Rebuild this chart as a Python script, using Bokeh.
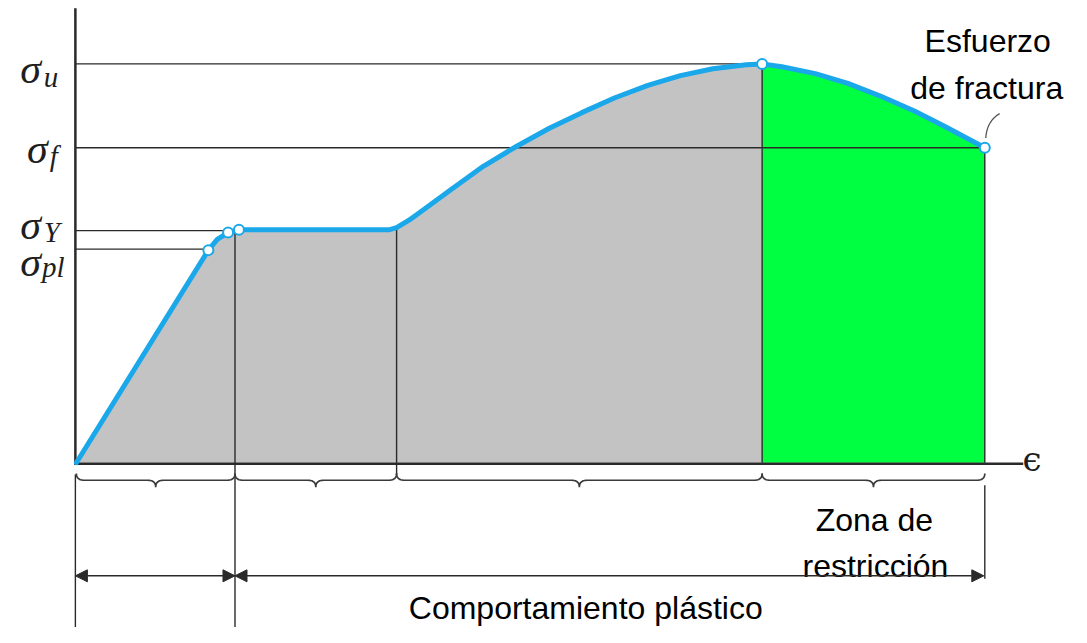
import numpy as np
from bokeh.plotting import figure
from bokeh.models import Range1d, Arrow, NormalHead
from bokeh.core.properties import value
from bokeh.embed import file_html
from bokeh.resources import INLINE

# ---- data (strain / stress in arbitrary units) ----
strain = [0.00, 1.34, 1.43, 1.54, 1.65, 2.20, 2.80, 3.18, 3.25, 3.38, 3.53, 3.80,
          4.13, 4.46, 4.80, 5.13, 5.46, 5.80, 6.13, 6.46, 6.80, 6.96, 7.16, 7.50,
          7.83, 8.16, 8.50, 8.83, 9.22]
stress = [0.00, 2.18, 2.29, 2.36, 2.39, 2.39, 2.39, 2.39, 2.41, 2.49, 2.60, 2.80,
          3.04, 3.24, 3.43, 3.59, 3.74, 3.87, 3.97, 4.04, 4.08, 4.09, 4.06, 3.99,
          3.89, 3.76, 3.61, 3.44, 3.23]

key_strain = [1.34, 1.54, 1.65, 6.96, 9.22]      # marked points
key_stress = [2.18, 2.36, 2.39, 4.09, 3.23]

level_names = ["u", "f", "Y", "pl"]
level_stress = [4.09, 3.23, 2.38, 2.19]
level_strain_end = [6.96, 9.22, 1.54, 1.34]

zone_bounds = [0.00, 1.61, 3.25, 6.96, 9.22]     # region limits on strain axis
eps_u = 6.96
eps_f = 9.22

GREY = "#c3c3c3"
GREEN = "#00ff41"
BLUE = "#1ba8ea"
INK = "#2a2a2a"

X0, X1 = -0.77, 10.10
Y0, Y1 = -1.69, 4.74

p = figure(width=1071, height=627, output_backend="svg", toolbar_location=None,
           x_range=Range1d(X0, X1), y_range=Range1d(Y0, Y1),
           min_border=0, x_axis_location=None, y_axis_location=None)
p.grid.visible = False
p.outline_line_color = None
p.background_fill_color = "white"
p.border_fill_color = "white"

s = np.array(strain)
t = np.array(stress)
iu = strain.index(eps_u)

# filled regions
p.varea(x=s[:iu + 1], y1=0, y2=t[:iu + 1], fill_color=GREY)
p.varea(x=s[iu:], y1=0, y2=t[iu:], fill_color=GREEN)

# reference horizontal lines
for lv, le in zip(level_stress, level_strain_end):
    p.line([-0.01, le], [lv, lv], line_color=INK, line_width=1.3)

# vertical separators
p.line([zone_bounds[1]] * 2, [2.38, Y0], line_color=INK, line_width=1.4)
p.line([zone_bounds[2]] * 2, [2.41, -0.12], line_color=INK, line_width=1.4)
p.line([zone_bounds[3]] * 2, [4.09, 0], line_color=INK, line_width=1.4)
p.line([zone_bounds[4]] * 2, [3.23, 0], line_color=INK, line_width=1.4)
p.line([zone_bounds[4]] * 2, [-0.23, -1.19], line_color=INK, line_width=1.4)
p.line([-0.01, -0.01], [-0.12, Y0], line_color=INK, line_width=1.4)

# axes
p.line([-0.01, -0.01], [-0.02, 4.66], line_color=INK, line_width=2.5)
p.line([-0.02, 9.61], [-0.01, -0.01], line_color=INK, line_width=2.5)

# braces
def qbez(p0, c, p1, n=12):
    tt = np.linspace(0, 1, n)
    x = (1 - tt) ** 2 * p0[0] + 2 * (1 - tt) * tt * c[0] + tt ** 2 * p1[0]
    y = (1 - tt) ** 2 * p0[1] + 2 * (1 - tt) * tt * c[1] + tt ** 2 * p1[1]
    return list(x), list(y)

yt, yl, yn, d = -0.11, -0.18, -0.25, 0.08
for a, b in zip(zone_bounds[:-1], zone_bounds[1:]):
    m = (a + b) / 2
    xs, ys = [], []
    for seg in [qbez((a, yt), (a, yl), (a + d, yl)),
                ([a + d, m - d], [yl, yl]),
                qbez((m - d, yl), (m, yl), (m, yn)),
                qbez((m, yn), (m, yl), (m + d, yl)),
                ([m + d, b - d], [yl, yl]),
                qbez((b - d, yl), (b, yl), (b, yt))]:
        xs += list(seg[0]); ys += list(seg[1])
    p.line(xs, ys, line_color="#3a3a3a", line_width=1.7)

# dimension arrows
for x0, x1 in [(-0.01, zone_bounds[1]), (zone_bounds[1], eps_f - 0.01)]:
    p.add_layout(Arrow(x_start=x0, y_start=-1.16, x_end=x1, y_end=-1.16,
                       line_color=INK, line_width=1.4,
                       start=NormalHead(size=12, fill_color=INK, line_color=INK),
                       end=NormalHead(size=12, fill_color=INK, line_color=INK)))

# fracture hook
hx, hy = qbez((9.23, 3.33), (9.24, 3.50), (9.37, 3.58))
p.line(hx, hy, line_color="#555555", line_width=1.3)

# curve + markers
p.line(s, t, line_color=BLUE, line_width=5, line_join="round", line_cap="round")
p.scatter(key_strain, key_stress, size=10, fill_color="white", line_color=BLUE,
          line_width=2)

# sigma labels
sig_x = [-0.57, -0.50, -0.57, -0.57]
sig_y = [4.04, 3.22, 2.44, 2.06]
sub_x = [-0.33, -0.27, -0.33, -0.35]
sub_y = [3.96, 3.15, 2.37, 2.01]
serif = value("Liberation Serif")
p.text(sig_x, sig_y, text=["σ"] * 4, text_font=serif, text_font_style="italic",
       text_font_size="42px", text_color="#1e1e1e", text_baseline="alphabetic",
       text_align="left")
p.text(sub_x, sub_y, text=level_names, text_font=serif, text_font_style="italic",
       text_font_size="29px", text_color="#1e1e1e", text_baseline="alphabetic",
       text_align="left")

p.text([9.70], [0.04], text=["ϵ"], text_font=value("DejaVu Serif"),
       text_font_size="34px", text_color="#1e1e1e", text_baseline="middle",
       text_align="center")

sans = value("Liberation Sans")
p.text([5.17, 8.10, 8.11, 9.25, 9.24], [-1.49, -0.59, -1.06, 4.32, 3.84],
       text=["Comportamiento plástico", "Zona de", "restricción", "Esfuerzo", "de fractura"],
       text_font=sans, text_font_size="32px", text_color="black",
       text_baseline="alphabetic", text_align="center")

open("out.html", "w").write(file_html(p, INLINE))
